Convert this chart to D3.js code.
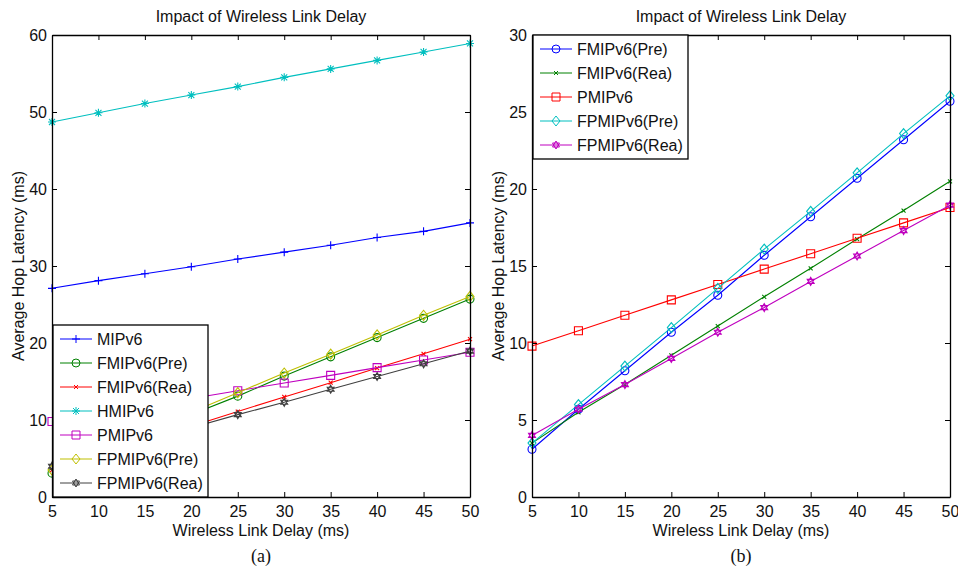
<!DOCTYPE html>
<html>
<head>
<meta charset="utf-8">
<script src="https://cdn.jsdelivr.net/npm/d3@7"></script>
<style>
  body { margin: 0; background: #fff; }
  text { font-family: 'Liberation Sans', Arial, sans-serif; fill: #111; }
</style>
</head>
<body>
<div id="chart"></div>
<script>
// x values shared by both panels
const delays = [5, 10, 15, 20, 25, 30, 35, 40, 45, 50]

// series
const mipv6 = [27.1, 28.1, 29.0, 29.9, 30.9, 31.8, 32.7, 33.7, 34.5, 35.6]
const hmipv6 = [48.7, 49.9, 51.1, 52.2, 53.3, 54.5, 55.6, 56.7, 57.8, 58.9]
const fmipv6Pre = [3.1, 5.7, 8.2, 10.7, 13.1, 15.7, 18.2, 20.7, 23.2, 25.7]
const fmipv6Rea = [3.5, 5.5, 7.3, 9.2, 11.1, 13.0, 14.85, 16.75, 18.6, 20.5]
const pmipv6 = [9.8, 10.8, 11.8, 12.8, 13.8, 14.8, 15.8, 16.8, 17.8, 18.8]
const fpmipv6Pre = [3.5, 6.0, 8.5, 11.0, 13.55, 16.1, 18.55, 21.05, 23.6, 26.05]
const fpmipv6Rea = [4.0, 5.7, 7.3, 9.0, 10.7, 12.3, 14.0, 15.65, 17.3, 18.95]

const leftYTicks = [0, 10, 20, 30, 40, 50, 60]
const rightYTicks = [0, 5, 10, 15, 20, 25, 30]

const leftSeries = [
  { name: 'MIPv6', values: mipv6, color: '#0000ff', marker: 'plus' },
  { name: 'FMIPv6(Pre)', values: fmipv6Pre, color: '#008000', marker: 'circle' },
  { name: 'FMIPv6(Rea)', values: fmipv6Rea, color: '#ff0000', marker: 'x' },
  { name: 'HMIPv6', values: hmipv6, color: '#00bfbf', marker: 'star' },
  { name: 'PMIPv6', values: pmipv6, color: '#bf00bf', marker: 'square' },
  { name: 'FPMIPv6(Pre)', values: fpmipv6Pre, color: '#bfbf00', marker: 'diamond' },
  { name: 'FPMIPv6(Rea)', values: fpmipv6Rea, color: '#404040', marker: 'hexagram' }
]

const rightSeries = [
  { name: 'FMIPv6(Pre)', values: fmipv6Pre, color: '#0000ff', marker: 'circle' },
  { name: 'FMIPv6(Rea)', values: fmipv6Rea, color: '#008000', marker: 'x' },
  { name: 'PMIPv6', values: pmipv6, color: '#ff0000', marker: 'square' },
  { name: 'FPMIPv6(Pre)', values: fpmipv6Pre, color: '#00bfbf', marker: 'diamond' },
  { name: 'FPMIPv6(Rea)', values: fpmipv6Rea, color: '#bf00bf', marker: 'hexagram' }
]

const svg = d3
  .select('#chart')
  .append('svg')
  .attr('width', 958)
  .attr('height', 571)

function markerPath(type) {
  if (type === 'plus') return 'M-4,0H4M0,-4V4'
  if (type === 'x') return 'M-2,-2L2,2M-2,2L2,-2'
  if (type === 'star') return 'M-4,0H4M0,-4V4M-3,-3L3,3M-3,3L3,-3'
  if (type === 'circle') return d3.symbol(d3.symbolCircle, 50)()
  if (type === 'square') return 'M-4,-4H4V4H-4Z'
  if (type === 'diamond') return 'M0,-5L4,0L0,5L-4,0Z'
  // hexagram: two triangles
  const tri = a => d3.range(3).map(i => {
    const t = a + i * 2 * Math.PI / 3
    return [4 * Math.sin(t), -4 * Math.cos(t)]
  })
  return 'M' + tri(0).join('L') + 'Z' + 'M' + tri(Math.PI).join('L') + 'Z'
}

function drawPanel(opts) {
  const g = svg.append('g')
  const x = d3.scaleLinear().domain([5, 50]).range([opts.left, opts.right])
  const y = d3.scaleLinear().domain(opts.yDomain).range([497, 35])

  // lines + markers
  const line = d3.line().x((d, i) => x(delays[i])).y(d => y(d))
  opts.series.forEach(s => {
    g.append('path')
      .attr('d', line(s.values))
      .attr('fill', 'none')
      .attr('stroke', s.color)
      .attr('stroke-width', 1.1)
    g.selectAll(null)
      .data(s.values)
      .enter()
      .append('path')
      .attr('d', markerPath(s.marker))
      .attr('transform', (d, i) => 'translate(' + x(delays[i]) + ',' + y(d) + ')')
      .attr('fill', 'none')
      .attr('stroke', s.color)
      .attr('stroke-width', 1.1)
  })

  // box axes with inward ticks on all sides
  const ax = g.append('g').attr('class', 'axes')
  ax.append('g')
    .attr('transform', 'translate(0,497)')
    .call(d3.axisBottom(x).tickValues(delays).tickSizeInner(-5).tickSizeOuter(0).tickPadding(9))
  ax.append('g')
    .attr('transform', 'translate(0,35)')
    .call(d3.axisTop(x).tickValues(delays).tickSizeInner(-5).tickSizeOuter(0).tickFormat(''))
  ax.append('g')
    .attr('transform', 'translate(' + opts.left + ',0)')
    .call(d3.axisLeft(y).tickValues(opts.yTicks).tickSizeInner(-5).tickSizeOuter(0).tickPadding(5))
  ax.append('g')
    .attr('transform', 'translate(' + opts.right + ',0)')
    .call(d3.axisRight(y).tickValues(opts.yTicks).tickSizeInner(-5).tickSizeOuter(0).tickFormat(''))
  ax.selectAll('.domain').attr('stroke', '#000').attr('stroke-width', 1.3)
  ax.selectAll('.tick line').attr('stroke', '#000')
  ax.selectAll('.tick text')
    .style('font-family', "'Liberation Sans', Arial, sans-serif")
    .style('font-size', '16px')
    .attr('fill', '#111')

  const cx = (opts.left + opts.right) / 2
  g.append('text')
    .attr('x', cx).attr('y', 22)
    .attr('text-anchor', 'middle')
    .style('font-size', '16px')
    .text('Impact of Wireless Link Delay')
  g.append('text')
    .attr('x', cx).attr('y', 536)
    .attr('text-anchor', 'middle')
    .style('font-size', '16px')
    .text('Wireless Link Delay (ms)')
  g.append('text')
    .attr('transform', 'translate(' + (opts.left - 28) + ',266) rotate(-90)')
    .attr('text-anchor', 'middle')
    .style('font-size', '16px')
    .text('Average Hop Latency (ms)')
  g.append('text')
    .attr('x', cx).attr('y', 562)
    .attr('text-anchor', 'middle')
    .style('font-family', "'Liberation Serif', 'Times New Roman', serif")
    .style('font-size', '18px')
    .text(opts.caption)

  // legend
  const rowH = 24
  const lg = g.append('g').attr('transform', 'translate(' + (opts.left + 1) + ',' + opts.legendTop + ')')
  lg.append('rect')
    .attr('width', 155)
    .attr('height', opts.series.length * rowH + 4)
    .attr('fill', '#fff')
    .attr('stroke', '#000')
    .attr('stroke-width', 1.3)
  const rows = lg.selectAll('.row')
    .data(opts.series)
    .enter()
    .append('g')
    .attr('transform', (d, i) => 'translate(0,' + (14 + i * rowH) + ')')
  rows.append('line')
    .attr('x1', 7).attr('x2', 39)
    .attr('stroke', d => d.color)
  rows.append('path')
    .attr('d', d => markerPath(d.marker))
    .attr('transform', 'translate(23,0)')
    .attr('fill', 'none')
    .attr('stroke', d => d.color)
  rows.append('text')
    .attr('x', 44)
    .attr('dy', '0.36em')
    .style('font-size', '16px')
    .text(d => d.name)
}

drawPanel({
  left: 52, right: 470, yDomain: [0, 60], yTicks: leftYTicks,
  series: leftSeries, legendTop: 325, caption: '(a)'
})
drawPanel({
  left: 532, right: 950, yDomain: [0, 30], yTicks: rightYTicks,
  series: rightSeries, legendTop: 35, caption: '(b)'
})
</script>
</body>
</html>
